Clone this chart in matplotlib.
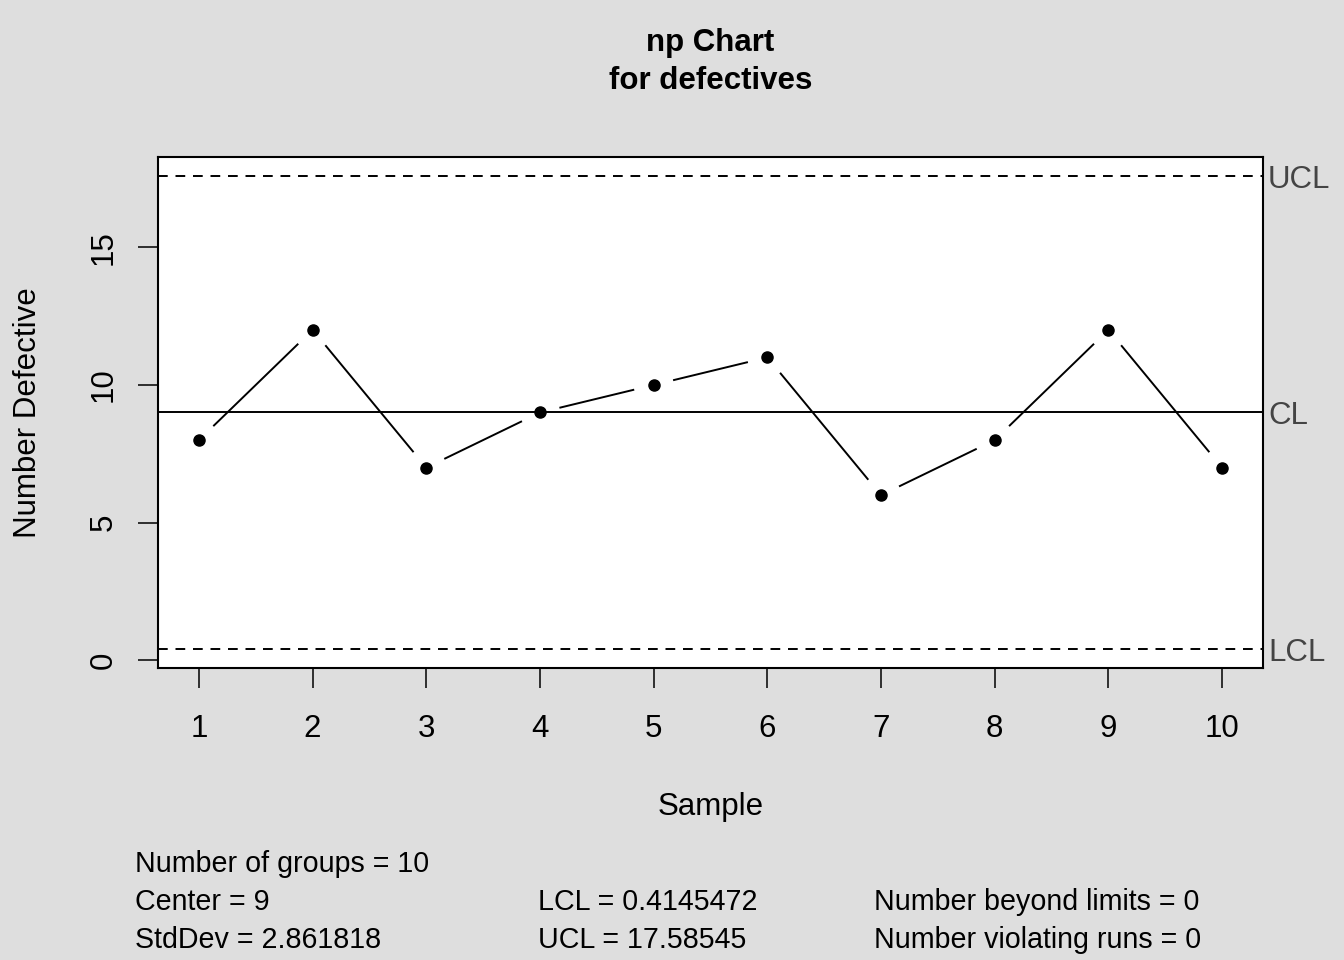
import matplotlib
matplotlib.use('Agg')
import matplotlib.pyplot as plt
import matplotlib.transforms as mtransforms
import numpy as np

# ---- data ----
samples = [1, 2, 3, 4, 5, 6, 7, 8, 9, 10]
defectives = [8, 12, 7, 9, 10, 11, 6, 8, 12, 7]
center = 9
lcl = 0.4145472
ucl = 17.58545
std_dev = 2.861818
n_groups = 10
n_beyond = 0
n_violating = 0
y_ticks = [0, 5, 10, 15]
title_lines = ["np Chart", "for defectives"]
x_label = "Sample"
y_label = "Number Defective"

# ---- figure ----
W, H, DPI = 1344, 960, 100
BG = '#DEDEDE'
FS = 22.5
FS_STATS = 20.6
plt.rcParams['font.family'] = ['Liberation Sans', 'DejaVu Sans']

fig = plt.figure(figsize=(W / DPI, H / DPI), dpi=DPI, facecolor=BG)
ax = fig.add_axes([158 / W, 1 - 668 / H, (1263 - 158) / W, (668 - 157) / H])
ax.set_facecolor('white')

# R-style 4% axis expansion
xr = (min(samples), max(samples))
xpad = 0.04 * (xr[1] - xr[0])
ax.set_xlim(xr[0] - xpad, xr[1] + xpad)
yvals = list(defectives) + [lcl, ucl]
yr = (min(yvals), max(yvals))
ypad = 0.04 * (yr[1] - yr[0])
ax.set_ylim(yr[0] - ypad, yr[1] + ypad)

# control lines
ax.axhline(center, color='black', lw=1.4)
ax.axhline(ucl, color='black', lw=1.4, ls=(0, (5, 4)))
ax.axhline(lcl, color='black', lw=1.4, ls=(0, (5, 4)))

# points
ax.plot(samples, defectives, 'o', color='black', ms=8.0, zorder=5)

# segments with gaps (R type="b")
pts = ax.transData.transform(np.column_stack([samples, defectives]))
gap = 20.0
inv = ax.transData.inverted()
for p0, p1 in zip(pts[:-1], pts[1:]):
    d = p1 - p0
    L = np.hypot(d[0], d[1])
    u = d / L
    seg = inv.transform(np.array([p0 + u * gap, p1 - u * gap]))
    ax.plot(seg[:, 0], seg[:, 1], color='black', lw=1.4, solid_capstyle='butt')

# ticks
ax.set_xticks(samples)
ax.set_xticklabels([str(s) for s in samples])
ax.set_yticks(y_ticks)
ax.set_yticklabels([str(t) for t in y_ticks])
ax.tick_params(direction='out', length=14.4, width=1.1, labelsize=FS, color='black')
ax.tick_params(axis='x', pad=19)
ax.tick_params(axis='y', pad=14, labelrotation=90)
for lbl in ax.get_yticklabels():
    lbl.set_va('center')
for s in ax.spines.values():
    s.set_linewidth(1.5)

# right-side limit labels
trans = mtransforms.blended_transform_factory(ax.transAxes, ax.transData)
trans = mtransforms.offset_copy(trans, fig=fig, x=0, y=-4, units='dots')
for val, name in [(ucl, 'UCL'), (center, 'CL'), (lcl, 'LCL')]:
    ax.text(1.0 + 5 / 1105, val, name, transform=trans, ha='left', va='center',
            color='#444444', fontsize=FS, clip_on=False)

# titles and axis labels
fig.text(710.5 / W, 1 - 51 / H, title_lines[0], ha='center', va='baseline',
         fontsize=FS, fontweight='bold')
fig.text(710.5 / W, 1 - 89 / H, title_lines[1], ha='center', va='baseline',
         fontsize=FS, fontweight='bold')
fig.text(710.5 / W, 1 - 815 / H, x_label, ha='center', va='baseline', fontsize=FS)
fig.text(36 / W, 1 - 412.5 / H, y_label, ha='center', va='baseline',
         rotation=90, rotation_mode='anchor', fontsize=FS)

# stats
fig.text(135 / W, 1 - 872 / H, f"Number of groups = {n_groups}", fontsize=FS_STATS, va='baseline')
fig.text(135 / W, 1 - 910 / H, f"Center = {center}", fontsize=FS_STATS, va='baseline')
fig.text(135 / W, 1 - 948 / H, f"StdDev = {std_dev}", fontsize=FS_STATS, va='baseline')
fig.text(538 / W, 1 - 910 / H, f"LCL = {lcl}", fontsize=FS_STATS, va='baseline')
fig.text(538 / W, 1 - 948 / H, f"UCL = {ucl}", fontsize=FS_STATS, va='baseline')
fig.text(874 / W, 1 - 910 / H, f"Number beyond limits = {n_beyond}", fontsize=FS_STATS, va='baseline')
fig.text(874 / W, 1 - 948 / H, f"Number violating runs = {n_violating}", fontsize=FS_STATS, va='baseline')

fig.savefig('out.png', dpi=DPI, facecolor=fig.get_facecolor())
